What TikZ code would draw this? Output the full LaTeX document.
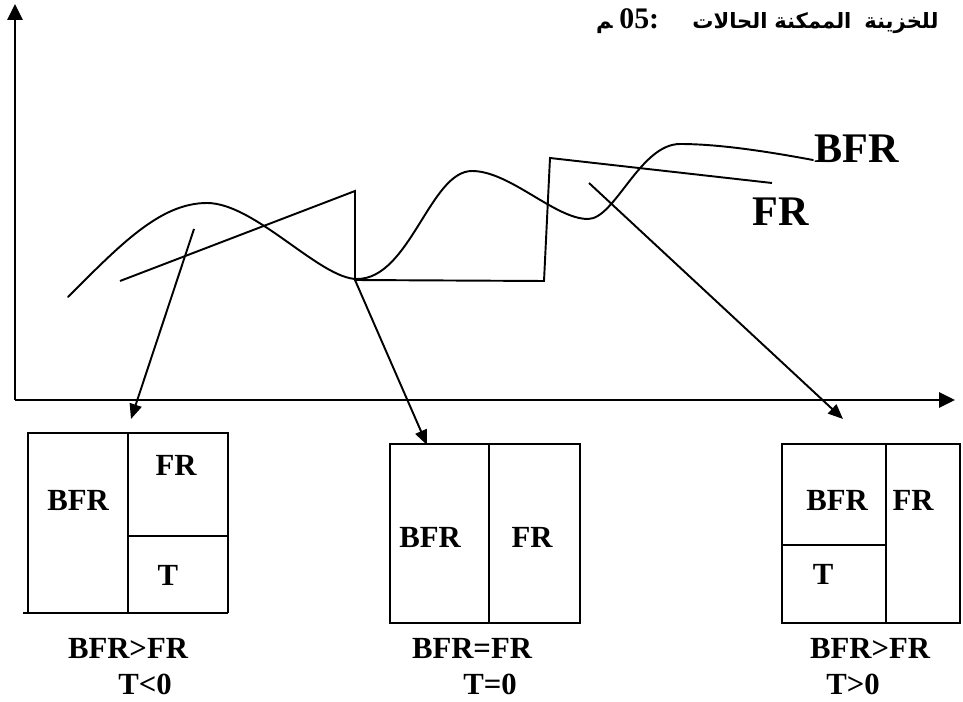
\documentclass[tikz,border=0pt]{standalone}
\usepackage{fontspec}
\setmainfont{Liberation Serif}
\newfontfamily\arabicfont[Script=Arabic]{DejaVu Sans}
\usetikzlibrary{arrows.meta}

\tikzset{
  pen/.style={line width=1.1pt, line join=miter},
  axis/.style={line width=1.4pt, -{Triangle[length=9pt,width=8.5pt]}},
  pointer/.style={line width=1.1pt, -{Triangle[length=8.5pt,width=7pt]}},
  celltext/.style={font=\fontsize{17.5}{20}\selectfont\bfseries, inner sep=0pt},
  curvetext/.style={font=\fontsize{24}{28}\selectfont\bfseries, inner sep=0pt},
  captext/.style={font=\fontsize{17.5}{20}\selectfont\bfseries, inner sep=0pt},
  titlear/.style={font=\fontsize{12}{15}\selectfont\arabicfont\bfseries, inner sep=0pt, anchor=base west},
  titlenum/.style={font=\fontsize{17}{20}\selectfont\bfseries, inner sep=0pt, anchor=base west},
}

\begin{document}
\begin{tikzpicture}[x=0.02cm, y=-0.02cm]
\useasboundingbox (0,0) rectangle (963,702);
\clip (0,0) rectangle (963,702);

% title, one word per node, cut by the right edge
\node[titlear, anchor=base east] (t0) at (613,29) {^^^^200dم};
\node[titlenum] (t1) at (619,29) {05:};
\node[titlear] (t2) at (692,29) {الحالات};
\node[titlear] (t3) at (774,29) {الممكنة};
\node[titlear] (t4) at (864,29) {للخزينة};

% axes
\coordinate (origin) at (15,400);
\coordinate (ytop) at (15,4);
\coordinate (xend) at (955,400);
\draw[axis] (origin) -- (ytop);
\draw[axis] (origin) -- (xend);

% BFR curve
\draw[pen, line cap=round] (68,297)
  .. controls (120,245) and (160,203) .. (207,203)
  .. controls (255,203) and (320,279) .. (357,279)
  .. controls (410,279) and (430,171) .. (472,171)
  .. controls (510,171) and (555,219) .. (588,219)
  .. controls (615,219) and (640,144) .. (680,144)
  .. controls (720,144) and (770,152) .. (813,160);

% FR polyline
\draw[pen] (120,281) -- (355,191) -- (355,280) -- (544,281) -- (550,158) -- (772,183);

% curve labels
\node[curvetext, anchor=west] (lbfr) at (814,149) {BFR};
\node[curvetext, anchor=west] (lfr) at (752,212) {FR};

% pointers from the curves to the three cases
\coordinate (p1) at (194,229);
\coordinate (p2) at (355,280);
\coordinate (p3) at (589,183);
\coordinate (c1) at (131,419);
\coordinate (c2) at (427,445);
\coordinate (c3) at (843,419);
\draw[pointer] (p1) -- (c1);
\draw[pointer] (p2) -- (c2);
\draw[pointer] (p3) -- (c3);

% case 1: BFR > FR, T < 0
\draw[pen] (28,613) -- (28,433) -- (228,433) -- (228,613);
\draw[pen] (23,613) -- (228,613);
\draw[pen] (128,433) -- (128,613);
\draw[pen] (128,536) -- (228,536);
\node[celltext] (b1) at (78,500) {BFR};
\node[celltext] (f1) at (176,465) {FR};
\node[celltext] (tr1) at (168,575) {T};

% case 2: BFR = FR, T = 0
\draw[pen] (390,444) rectangle (580,623);
\draw[pen] (489,444) -- (489,623);
\node[celltext] (b2) at (430,537) {BFR};
\node[celltext] (f2) at (532,537) {FR};

% case 3: BFR > FR, T > 0
\draw[pen] (782,444) rectangle (960,623);
\draw[pen] (886,444) -- (886,623);
\draw[pen] (782,545) -- (886,545);
\node[celltext] (b3) at (837,500) {BFR};
\node[celltext] (f3) at (913,500) {FR};
\node[celltext] (tr3) at (823,574) {T};

% captions
\node[captext] (cap1a) at (128,648) {BFR>FR};
\node[captext] (cap1b) at (145,684) {T<0};
\node[captext] (cap2a) at (472,648) {BFR=FR};
\node[captext] (cap2b) at (490,684) {T=0};
\node[captext] (cap3a) at (870,648) {BFR>FR};
\node[captext] (cap3b) at (853,684) {T>0};
\end{tikzpicture}
\end{document}
